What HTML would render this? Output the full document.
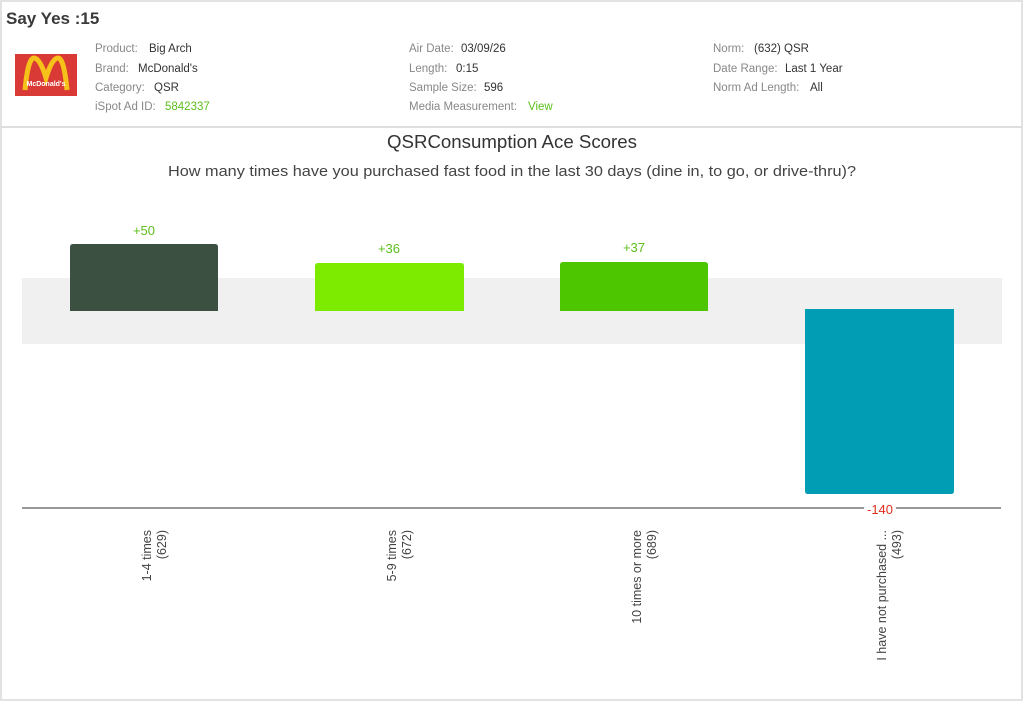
<!DOCTYPE html>
<html><head><meta charset="utf-8"><style>
html,body{margin:0;padding:0;background:#fff;}
body{width:1024px;height:702px;overflow:hidden;position:relative;font-family:"Liberation Sans",sans-serif;}
</style></head><body>
<svg width="1024" height="702" xmlns="http://www.w3.org/2000/svg" style="position:absolute;left:0;top:0">
<rect x="1" y="1" width="1021" height="699" fill="#fff" stroke="#e2e2e2" stroke-width="2"/>
<line x1="1" y1="127" x2="1022" y2="127" stroke="#dedede" stroke-width="2"/>
<text x="6" y="24" font-size="17" font-weight="bold" fill="#3a3a3a">Say Yes :15</text>
<rect x="15" y="54" width="62" height="42" fill="#d93a36"/>
<path d="M25 90 Q28 58 34 58 Q40 58 46 78 Q52 58 58 58 Q64 58 67 90" fill="none" stroke="#f6c21a" stroke-width="5"/>
<text x="46" y="86" font-size="7" font-weight="bold" fill="#fff" text-anchor="middle">McDonald's</text>
<g font-size="11.5" fill="#888">
<text x="95" y="52">Product:</text><text x="95" y="72">Brand:</text><text x="95" y="91">Category:</text><text x="95" y="110">iSpot Ad ID:</text>
<text x="409" y="52">Air Date:</text><text x="409" y="72">Length:</text><text x="409" y="91">Sample Size:</text><text x="409" y="110">Media Measurement:</text>
<text x="713" y="52">Norm:</text><text x="713" y="72">Date Range:</text><text x="713" y="91">Norm Ad Length:</text>
</g>
<g font-size="11.5" fill="#333">
<text x="149" y="52">Big Arch</text><text x="138" y="72">McDonald's</text><text x="154" y="91">QSR</text><text x="165" y="110" fill="#5cbf1c">5842337</text>
<text x="461" y="52">03/09/26</text><text x="456" y="72">0:15</text><text x="484" y="91">596</text><text x="528" y="110" fill="#5cbf1c">View</text>
<text x="754" y="52">(632) QSR</text><text x="785" y="72">Last 1 Year</text><text x="810" y="91">All</text>
</g>
<text x="512" y="148" font-size="18" fill="#333" text-anchor="middle" textLength="250" lengthAdjust="spacingAndGlyphs">QSRConsumption Ace Scores</text>
<text x="512" y="176" font-size="15" fill="#444" text-anchor="middle" textLength="688" lengthAdjust="spacingAndGlyphs">How many times have you purchased fast food in the last 30 days (dine in, to go, or drive-thru)?</text>
<rect x="22" y="278" width="980" height="66" fill="#f0f0f0"/>
<path d="M70 311 V247 Q70 244 73 244 H215 Q218 244 218 247 V311 Z" fill="#3c5042"/>
<path d="M315 311 V266 Q315 263 318 263 H461 Q464 263 464 266 V311 Z" fill="#7deb00"/>
<path d="M560 311 V265 Q560 262 563 262 H705 Q708 262 708 265 V311 Z" fill="#4dc600"/>
<path d="M805 309 V491 Q805 494 808 494 H951 Q954 494 954 491 V309 Z" fill="#009db5"/>
<g font-size="13" fill="#5cbf1c" text-anchor="middle">
<text x="144" y="235">+50</text><text x="389" y="253">+36</text><text x="634" y="252">+37</text>
</g>
<line x1="22" y1="508" x2="1001" y2="508" stroke="#777" stroke-width="1.5"/>
<rect x="864" y="502" width="32" height="13" fill="#fff"/>
<text x="880" y="514" font-size="13" fill="#e0301e" text-anchor="middle">-140</text>
<g font-size="12.5" fill="#444" text-anchor="end">
<text transform="translate(151,530) rotate(-90)">1-4 times</text>
<text transform="translate(166,530) rotate(-90)">(629)</text>
<text transform="translate(396,530) rotate(-90)">5-9 times</text>
<text transform="translate(411,530) rotate(-90)">(672)</text>
<text transform="translate(641,530) rotate(-90)">10 times or more</text>
<text transform="translate(656,530) rotate(-90)">(689)</text>
<text transform="translate(886,530) rotate(-90)">I have not purchased ...</text>
<text transform="translate(901,530) rotate(-90)">(493)</text>
</g>
</svg>
</body></html>
